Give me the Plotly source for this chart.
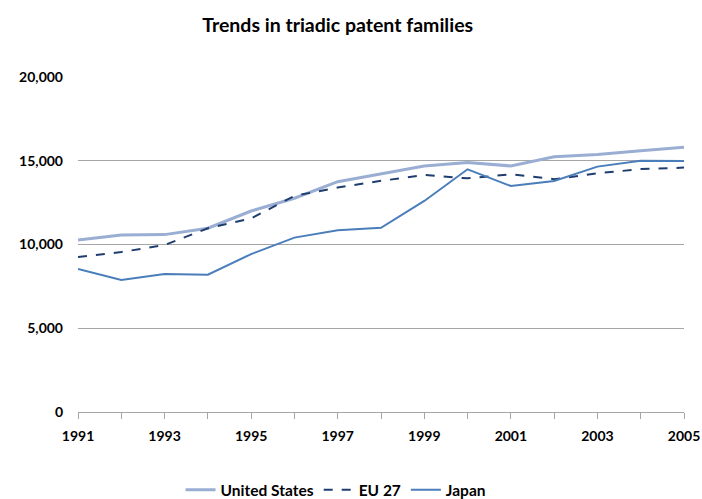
import plotly.graph_objects as go

years = list(range(1991, 2006))
united_states = [10270, 10570, 10590, 10970, 12000, 12760, 13750, 14200, 14690, 14900, 14690, 15240, 15380, 15600, 15800]
eu_27 = [9250, 9550, 9970, 10970, 11560, 12900, 13400, 13800, 14150, 13950, 14190, 13900, 14250, 14500, 14590]
japan = [8540, 7880, 8240, 8200, 9430, 10410, 10850, 11000, 12600, 14490, 13490, 13790, 14650, 15000, 14980]

y_ticks = [0, 5000, 10000, 15000, 20000]
x_labels = list(range(1991, 2006, 2))

font = "Lato, 'Open Sans', sans-serif"

fig = go.Figure()
fig.add_trace(go.Scatter(x=years, y=united_states, mode="lines", name="<b>United States</b>",
                         line=dict(color="#9AAED3", width=3)))
fig.add_trace(go.Scatter(x=years, y=eu_27, mode="lines", name="<b>EU 27</b>",
                         line=dict(color="#1F3D6E", width=2, dash="dash")))
fig.add_trace(go.Scatter(x=years, y=japan, mode="lines", name="<b>Japan</b>",
                         line=dict(color="#4A7EBB", width=2)))

fig.update_layout(
    width=702, height=499,
    paper_bgcolor="white", plot_bgcolor="white",
    margin=dict(l=78, r=18, t=77, b=87, autoexpand=False),
    font=dict(family=font, size=14, color="black"),
    title=dict(text="<b>Trends in triadic patent families</b>", x=0.481, xanchor="center",
               y=0.95, yanchor="middle", font=dict(size=19.5, color="black")),
    showlegend=True,
    legend=dict(orientation="h", x=0.425, xanchor="center", y=-0.233, yanchor="middle",
                font=dict(size=15.5, color="black"), itemwidth=30, traceorder="normal"),
)
fig.update_xaxes(
    range=[1991, 2005], tickvals=x_labels, ticktext=[f"<b>{v}</b>" for v in x_labels],
    showgrid=False, showline=True, linecolor="#A6A6A6", linewidth=1,
    ticks="outside", tickcolor="#A6A6A6", ticklen=6, ticklabelstandoff=5,
    minor=dict(dtick=1, ticks="outside", tickcolor="#A6A6A6", ticklen=6),
    zeroline=False, automargin=False,
)
fig.update_yaxes(
    range=[0, 20000], tickvals=y_ticks, ticktext=[f"<b>{v:,}</b>" for v in y_ticks],
    showgrid=True, gridcolor="#A6A6A6", gridwidth=1, showline=False,
    zeroline=False, ticks="", ticklabelstandoff=14, automargin=False,
)

# drop the default body margin so the figure fills the window exactly
fig.write_html("out.html", config={"displayModeBar": False},
               post_script="document.body.style.margin = '0';")
